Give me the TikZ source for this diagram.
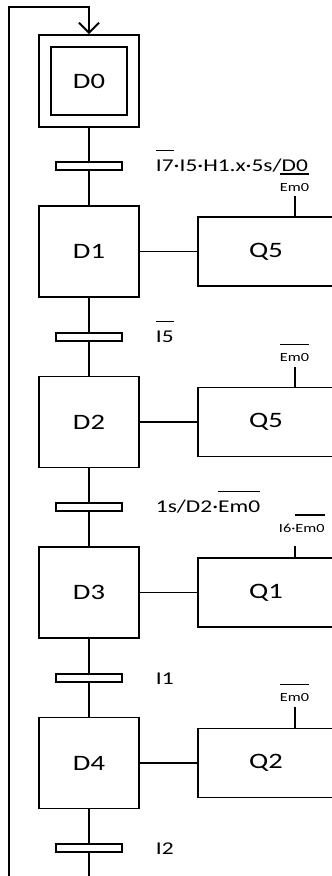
\documentclass[tikz,border=0pt]{standalone}
\usepackage{fontspec}
\setmainfont{Carlito}[FakeStretch=1.3]
\usetikzlibrary{arrows.meta}
\newcommand{\nbar}[1]{\vbox{\hrule height 1.6pt\kern 8pt\hbox{#1}}}

\begin{document}
\begin{tikzpicture}[x=1pt,y=-1pt,line width=1.9pt,
	stepbox/.style={ draw, inner sep=0pt, minimum width=100pt, minimum height=91pt, font=\fontsize{22}{26}\selectfont },
	actbox/.style={ draw, inner sep=0pt, minimum width=136pt, minimum height=69pt, font=\fontsize{22}{26}\selectfont },
	bar/.style={ draw, fill=white, inner sep=0pt, minimum width=66pt, minimum height=8pt },
	cond/.style={ anchor=base west, inner sep=0pt, font=\fontsize{18}{21}\selectfont },
	note/.style={ anchor=base west, inner sep=0pt, font=\fontsize{12.5}{15}\selectfont }
]
\useasboundingbox (0,0) rectangle (332,876);
\clip (0,0) rectangle (332,876);

% initial step
\node[stepbox, minimum height=92pt] at (89,81) (s0) {};
\node[stepbox, minimum width=76pt, minimum height=68pt] at (89,81) (s0i) {D0};

\node[bar] at (89,166.25) (t1) {};
\node[cond] at (155,171) (c1) {\nbar{I7}·I5·H1.x·5s/D0};

\node[stepbox] at (89,251.5) (s1) {D1};
\node[actbox] at (266,251.5) (a1) {Q5};
\draw (s0) to (t1);
\draw (t1) to (s1);
\draw (s1) to (a1);
\coordinate (k1) at (295,196);
\draw (k1) to (k1 |- a1.north);
\node[note] at (279,191) (n1) {\nbar{Em0}};

\node[bar] at (89,336.75) (t2) {};
\node[cond] at (155,342) (c2) {\nbar{I5}};

\node[stepbox] at (89,422) (s2) {D2};
\node[actbox] at (266,422) (a2) {Q5};
\draw (s1) to (t2);
\draw (t2) to (s2);
\draw (s2) to (a2);
\coordinate (k2) at (295,366.5);
\draw (k2) to (k2 |- a2.north);
\node[note] at (279,361.5) (n2) {\nbar{Em0}};

\node[bar] at (89,507.25) (t3) {};
\node[cond] at (155,512) (c3) {1s/D2·\nbar{Em0}};

\node[stepbox] at (89,592.5) (s3) {D3};
\node[actbox] at (266,592.5) (a3) {Q1};
\draw (s2) to (t3);
\draw (t3) to (s3);
\draw (s3) to (a3);
\coordinate (k3) at (295,546);
\draw (k3) to (k3 |- a3.north);
\node[note] at (278,532) (n3) {I6·\nbar{Em0}};

\node[bar] at (89,677.75) (t4) {};
\node[cond] at (155,684) (c4) {I1};

\node[stepbox] at (89,763) (s4) {D4};
\node[actbox] at (266,763) (a4) {Q2};
\draw (s3) to (t4);
\draw (t4) to (s4);
\draw (s4) to (a4);
\coordinate (k4) at (295,707);
\draw (k4) to (k4 |- a4.north);
\node[note] at (279,701.5) (n4) {\nbar{Em0}};

\node[bar] at (89,848.25) (t5) {};
\node[cond] at (155,854.5) (c5) {I2};
\draw (s4) to (t5);

% loop back to the initial step
\draw[-{Straight Barb[length=10pt,width=20pt]}] (t5) -- (89,890) -| (9,7) -| (s0);

\end{tikzpicture}
\end{document}
